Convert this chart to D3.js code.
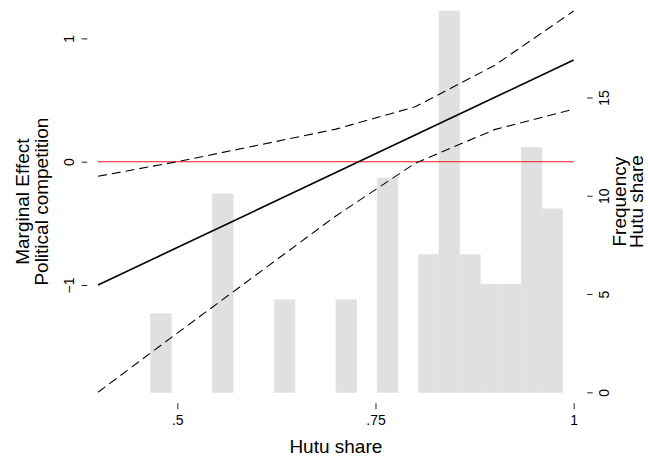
<!DOCTYPE html>
<html>
<head>
<meta charset="utf-8">
<script src="https://cdn.jsdelivr.net/npm/d3@7"></script>
<style>
  body { margin: 0; background: #fff; }
  svg text { font-family: "Liberation Sans", Arial, Helvetica, sans-serif; fill: #000; }
</style>
</head>
<body>
<div id="chart"></div>
<script>
// histogram of Hutu share (right axis)
const binLeft = [0.4665, 0.5444, 0.6223, 0.7002, 0.7522, 0.8041, 0.8301, 0.8561, 0.8820, 0.9080, 0.9340, 0.9599];
const binFreq = [4, 10.1, 4.7, 4.7, 10.9, 7, 19.4, 7, 5.5, 5.5, 12.45, 9.33];
const binWidth = 0.026;

// marginal effect and confidence bounds (left axis)
const share = [0.4, 0.5, 0.6, 0.7, 0.8, 0.9, 1.0];
const effect = [-1.0, -0.696, -0.392, -0.088, 0.216, 0.52, 0.824];
const upper = [-0.118, 0.0, 0.131, 0.264, 0.445, 0.78, 1.222];
const lower = [-1.87, -1.39, -0.915, -0.44, -0.013, 0.26, 0.426];

const leftTicks = [-1, 0, 1];
const rightTicks = [0, 5, 10, 15];
const xTicks = [0.5, 0.75, 1];
const xTickLabels = [".5", ".75", "1"];

const W = 648, H = 462;
const plot = {left: 98, right: 573.7, top: 11, bottom: 392.3};

const svg = d3.select("#chart").append("svg")
    .attr("width", W)
    .attr("height", H);

const x = d3.scaleLinear().domain([0.4, 1]).range([plot.left, plot.right]);
const yL = d3.scaleLinear()
    .domain([d3.min(lower), d3.max(upper)])
    .range([plot.bottom, plot.top]);
const yR = d3.scaleLinear()
    .domain([0, d3.max(binFreq)])
    .range([plot.bottom, plot.top]);

// bars
svg.append("g")
    .selectAll("rect")
    .data(binLeft)
    .join("rect")
    .attr("x", d => x(d))
    .attr("width", x(0.4 + binWidth) - x(0.4))
    .attr("y", (d, i) => yR(binFreq[i]))
    .attr("height", (d, i) => yR(0) - yR(binFreq[i]))
    .attr("fill", "#e0e0e0")
    .attr("stroke", "#e3e3e3")
    .attr("stroke-width", 0.8);

// zero line
svg.append("line")
    .attr("x1", x(0.4)).attr("x2", x(1))
    .attr("y1", yL(0)).attr("y2", yL(0))
    .attr("stroke", "#e8141b")
    .attr("stroke-width", 1.1);

const line = vals => d3.line()
    .x((d, i) => x(share[i]))
    .y(d => yL(d))(vals);

svg.append("path")
    .attr("d", line(upper))
    .attr("fill", "none").attr("stroke", "#000")
    .attr("stroke-width", 1.1).attr("stroke-dasharray", "9,5");

svg.append("path")
    .attr("d", line(lower))
    .attr("fill", "none").attr("stroke", "#000")
    .attr("stroke-width", 1.1).attr("stroke-dasharray", "9,5");

svg.append("path")
    .attr("d", line(effect))
    .attr("fill", "none").attr("stroke", "#000")
    .attr("stroke-width", 1.6);

// axes
const leftAxis = svg.append("g")
    .attr("transform", `translate(87.3,0)`)
    .call(d3.axisLeft(yL).tickValues(leftTicks).tickSize(5.6).tickFormat(d3.format("d")));

const rightAxis = svg.append("g")
    .attr("transform", `translate(587.3,0)`)
    .call(d3.axisRight(yR).tickValues(rightTicks).tickSize(5.4));

const bottomAxis = svg.append("g")
    .attr("transform", `translate(0,403.3)`)
    .call(d3.axisBottom(x).tickValues(xTicks).tickSize(6)
        .tickFormat((d, i) => xTickLabels[i]));

[leftAxis, rightAxis, bottomAxis].forEach(a => {
    a.select(".domain").remove();
    a.selectAll(".tick line").attr("stroke", "#222").attr("stroke-width", 1);
    a.selectAll(".tick text").attr("font-size", 14).style("font-family", "Liberation Sans, Arial, sans-serif");
});

leftAxis.selectAll(".tick text")
    .attr("x", 0).attr("y", -13.3).attr("dy", null)
    .attr("text-anchor", "middle")
    .attr("transform", "rotate(-90)");

rightAxis.selectAll(".tick text")
    .attr("x", 0).attr("y", 21.7).attr("dy", null)
    .attr("text-anchor", "middle")
    .attr("transform", "rotate(-90)");

bottomAxis.selectAll(".tick text")
    .attr("y", 21.7).attr("dy", null);

// titles
const midY = (plot.top + plot.bottom) / 2;

const title = (tx, ty, rot, txt) => svg.append("text")
    .attr("transform", `translate(${tx},${ty}) rotate(${rot})`)
    .attr("text-anchor", "middle")
    .attr("font-size", 19)
    .text(txt);

title(29, midY, -90, "Marginal Effect");
title(48, midY, -90, "Political competition");
title(626, midY, -90, "Frequency");
title(643, midY, -90, "Hutu share");
title(x(0.7), 453, 0, "Hutu share");
</script>
</body>
</html>
